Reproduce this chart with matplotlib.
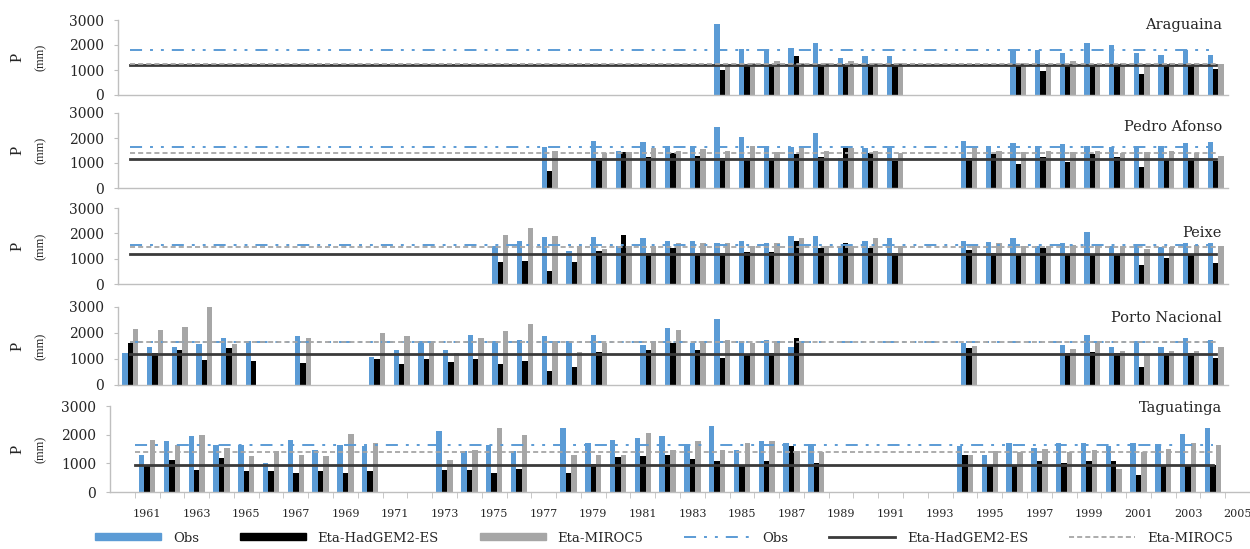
import numpy as np
import matplotlib.pyplot as plt
from matplotlib.patches import Patch
from matplotlib.lines import Line2D

plt.rcParams['font.family'] = ['DejaVu Serif']

W, H = 1250, 549  # figure size [px]

c_obs = '#5b9bd5'
c_had = '#000000'
c_mir = '#a6a6a6'
c_had_mean = '#3a3a3a'
c_txt = '#262626'

# annual precipitation [mm] per station
arag_years = [1984, 1985, 1986, 1987, 1988, 1989, 1990, 1991,
              1996, 1997, 1998, 1999, 2000, 2001, 2002, 2003, 2004]
arag_obs = [2850, 1850, 1800, 1900, 2100, 1500, 1550, 1550,
            1800, 1800, 1700, 2100, 2000, 1700, 1600, 1800, 1600]
arag_had = [1000, 1150, 1200, 1550, 1200, 1200, 1250, 1250,
            1200, 950, 1250, 1200, 1200, 850, 1150, 1200, 1050]
arag_mir = [1250, 1300, 1350, 1300, 1300, 1350, 1300, 1300,
            1300, 1250, 1350, 1250, 1300, 1250, 1300, 1300, 1250]

ped_years = [1977, 1979, 1980, 1981, 1982, 1983, 1984, 1985, 1986, 1987,
             1988, 1989, 1990, 1991, 1994, 1995, 1996, 1997, 1998, 1999,
             2000, 2001, 2002, 2003, 2004]
ped_obs = [1650, 1900, 1500, 1850, 1700, 1700, 2450, 2050, 1700, 1650,
           2200, 1200, 1600, 1600, 1900, 1700, 1800, 1700, 1750, 1700,
           1650, 1700, 1700, 1800, 1850]
ped_had = [700, 1200, 1450, 1250, 1400, 1300, 1200, 1200, 1200, 1350,
           1250, 1700, 1400, 1100, 1200, 1350, 950, 1250, 1050, 1350,
           1250, 850, 1150, 1200, 1100]
ped_mir = [1500, 1400, 1450, 1600, 1500, 1550, 1500, 1700, 1450, 1600,
           1500, 1600, 1500, 1400, 1600, 1500, 1450, 1500, 1450, 1500,
           1400, 1450, 1500, 1400, 1300]

pei_years = [1975, 1976, 1977, 1978, 1979, 1980, 1981, 1982, 1983, 1984,
             1985, 1986, 1987, 1988, 1989, 1990, 1991, 1994, 1995, 1996,
             1997, 1998, 1999, 2000, 2001, 2002, 2003, 2004]
pei_obs = [1500, 1700, 1850, 1300, 1850, 1500, 1800, 1700, 1700, 1600,
           1700, 1600, 1900, 1900, 1500, 1700, 1800, 1700, 1650, 1800,
           1500, 1600, 2050, 1500, 1500, 1450, 1600, 1600]
pei_had = [850, 900, 500, 850, 1300, 1950, 1220, 1410, 1220, 1220,
           1280, 1280, 1680, 1410, 1610, 1410, 1220, 1350, 1220, 1150,
           1410, 1150, 1150, 1150, 750, 1020, 1150, 820]
pei_mir = [1950, 2200, 1900, 1500, 1400, 1500, 1500, 1600, 1600, 1600,
           1500, 1600, 1800, 1500, 1500, 1800, 1500, 1500, 1600, 1500,
           1500, 1550, 1500, 1500, 1400, 1450, 1550, 1500]

por_years = [1960, 1961, 1962, 1963, 1964, 1965, 1967, 1970, 1971, 1972,
             1973, 1974, 1975, 1976, 1977, 1978, 1979, 1981, 1982, 1983,
             1984, 1985, 1986, 1987, 1994, 1998, 1999, 2000, 2001, 2002,
             2003, 2004]
por_obs = [1240, 1460, 1470, 1590, 1800, 1690, 1900, 1080, 1350, 1680,
           1350, 1940, 1680, 1740, 1880, 1680, 1940, 1550, 2200, 1610,
           2540, 1680, 1740, 1480, 1610, 1550, 1940, 1480, 1680, 1480,
           1810, 1740]
por_had = [1600, 1240, 1330, 980, 1430, 940, 850, 990, 820, 990,
           890, 990, 820, 910, 550, 690, 1280, 1350, 1610, 1350,
           1020, 1150, 1220, 1810, 1410, 1220, 1280, 1220, 690, 1220,
           1220, 1020]
por_mir = [2150, 2120, 2250, 3000, 1560, np.nan, 1800, 2000, 1880, 1610,
           1220, 1810, 2070, 2340, 1610, 1280, 1610, 1700, 2100, 1700,
           1750, 1600, 1700, 1650, 1500, 1400, 1600, 1300, 1200, 1300,
           1300, 1480]

tag_years = [1961, 1962, 1963, 1964, 1965, 1966, 1967, 1968, 1969, 1970,
             1973, 1974, 1975, 1976, 1978, 1979, 1980, 1981, 1982, 1983,
             1984, 1985, 1986, 1987, 1988, 1994, 1995, 1996, 1997, 1998,
             1999, 2000, 2001, 2002, 2003, 2004]
tag_obs = [1300, 1780, 1950, 1650, 1650, 1000, 1830, 1480, 1650, 1600,
           2120, 1420, 1650, 1420, 2250, 1720, 1830, 1880, 1950, 1660,
           2300, 1480, 1780, 1720, 1680, 1600, 1300, 1720, 1540, 1720,
           1720, 1600, 1720, 1680, 2010, 2240]
tag_had = [950, 1130, 780, 1190, 720, 720, 660, 720, 660, 750,
           780, 780, 660, 800, 680, 980, 1210, 1250, 1300, 1160,
           1090, 950, 1070, 1600, 1010, 1300, 950, 950, 1090, 1010,
           1090, 1090, 600, 950, 950, 950]
tag_mir = [1830, 1650, 2000, 1540, 1250, 1420, 1300, 1250, 2030, 1700,
           1130, 1480, 2250, 2000, 1300, 1300, 1300, 2070, 1480, 1780,
           1480, 1720, 1780, 1420, 1400, 1300, 1420, 1400, 1500, 1400,
           1450, 800, 1400, 1500, 1720, 1650]

# long-term means [mm]: Obs, Eta-HadGEM2-ES, Eta-MIROC5
arag_mean = [1800, 1200, 1250]
ped_mean = [1650, 1150, 1420]
pei_mean = [1520, 1200, 1480]
por_mean = [1650, 1200, 1650]
tag_mean = [1650, 950, 1410]

label_years = list(range(1961, 2006, 2))

# name, data, [left, right, top(3000), bottom(0)] px, xlim, mean start,
# name y px
panels = [
    ('Araguaina', arag_years, arag_obs, arag_had, arag_mir, arag_mean,
     (118, 1228, 20, 95), (1959.5, 2004.5), 1960, 25),
    ('Pedro Afonso', ped_years, ped_obs, ped_had, ped_mir, ped_mean,
     (118, 1228, 113, 188), (1959.5, 2004.5), 1960, 127),
    ('Peixe', pei_years, pei_obs, pei_had, pei_mir, pei_mean,
     (118, 1228, 208, 284), (1959.5, 2004.5), 1960, 233),
    ('Porto Nacional', por_years, por_obs, por_had, por_mir, por_mean,
     (118, 1228, 307, 385), (1959.5, 2004.5), 1960, 318),
    ('Taguatinga', tag_years, tag_obs, tag_had, tag_mir, tag_mean,
     (110, 1250, 406, 492), (1959.5, 2005.5), 1960.5, 408),
]

obs_dash = (6.2, 4.1, 1.5, 4.1, 1.5, 4.1)
mir_dash = (2.8, 1.7)

fig = plt.figure(figsize=(W/100, H/100), dpi=100)
wd = 0.22

for i, (name, yrs, obs, had, mir, mean, box, xlim, x0, name_y) in \
        enumerate(panels):
    left, right, top, bottom = box
    ax = fig.add_axes([left/W, 1 - bottom/H, (right-left)/W, (bottom-top)/H])
    yrs = np.array(yrs)
    ax.bar(yrs - wd, obs, wd, color=c_obs, zorder=2)
    ax.bar(yrs, had, wd, color=c_had, zorder=2)
    ax.bar(yrs + wd, mir, wd, color=c_mir, zorder=2)
    ax.plot([x0, 2004], [mean[0]]*2, color=c_obs, lw=1.4,
            dashes=obs_dash, zorder=3)
    ax.plot([x0, 2004], [mean[1]]*2, color=c_had_mean, lw=2.0, zorder=3)
    ax.plot([x0, 2004], [mean[2]]*2, color=c_mir, lw=1.3,
            dashes=mir_dash, zorder=3)
    ax.set_xlim(*xlim)
    ax.set_ylim(0, 3000)
    ax.set_yticks([0, 1000, 2000, 3000])
    ax.tick_params(axis='y', direction='out', length=3, color='#bfbfbf',
                   labelsize=10, labelcolor=c_txt, pad=7)
    for s in ('top', 'right'):
        ax.spines[s].set_visible(False)
    for s in ('left', 'bottom'):
        ax.spines[s].set_color('#bfbfbf')
        ax.spines[s].set_linewidth(1.0)
    if i < len(panels) - 1:
        ax.set_xticks([])
    else:
        ax.set_xticks(label_years)
        ax.set_xticklabels([str(y) for y in label_years])
        ax.set_xticks(np.arange(xlim[0] + 1, xlim[1], 1), minor=True)
        ax.tick_params(axis='x', which='major', length=0, pad=12,
                       labelsize=8, labelcolor=c_txt)
        ax.tick_params(axis='x', which='minor', direction='out', length=4,
                       color='#bfbfbf')
    ax.patch.set_alpha(0)
    fig.text(1222/W, 1 - name_y/H, name, ha='right', va='center',
             fontsize=10.5, color=c_txt)
    yc = 1 - (top + bottom)/2/H
    fig.text(18/W, yc, 'P', rotation=90, ha='center', va='center',
             fontsize=12, color=c_txt, family='Liberation Serif')
    fig.text(41/W, yc, '(mm)', rotation=90, ha='center', va='center',
             fontsize=9, color=c_txt, family='Liberation Serif')

handles = [Patch(color=c_obs), Patch(color=c_had), Patch(color=c_mir),
           Line2D([], [], color=c_obs, lw=1.4, dashes=obs_dash),
           Line2D([], [], color=c_had_mean, lw=2.0),
           Line2D([], [], color=c_mir, lw=1.3, dashes=mir_dash)]
labels = ['Obs', 'Eta-HadGEM2-ES', 'Eta-MIROC5',
          'Obs', 'Eta-HadGEM2-ES', 'Eta-MIROC5']
fig.legend(handles, labels, ncol=6, loc='center left',
           bbox_to_anchor=(95/W, 1 - 538/H), frameon=False, fontsize=9.5,
           handlelength=5.0, handleheight=0.45, handletextpad=0.9,
           columnspacing=3.1, labelcolor=c_txt, borderpad=0,
           borderaxespad=0)

fig.savefig('out.png', dpi=100)
